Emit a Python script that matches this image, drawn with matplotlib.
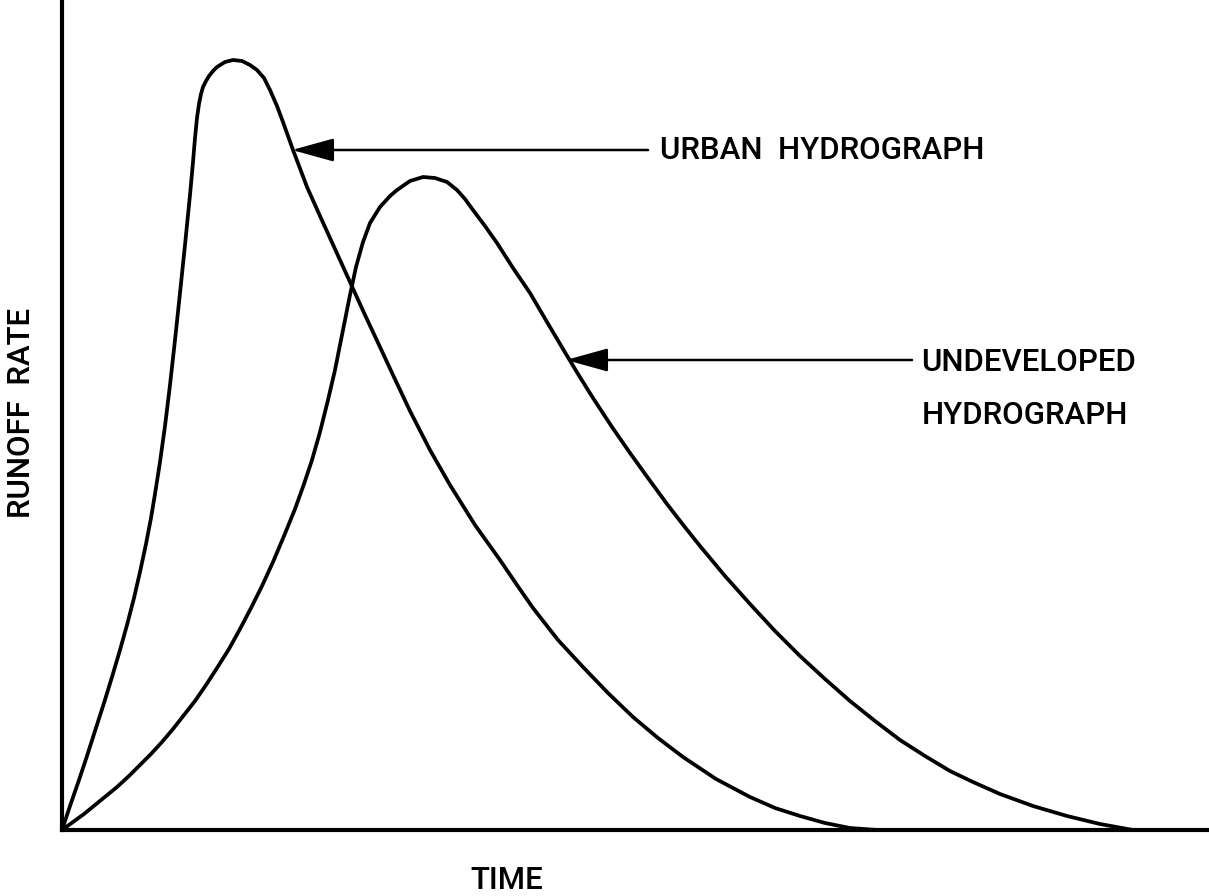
import matplotlib
matplotlib.use("Agg")
import matplotlib.pyplot as plt

# Curves as (time, rate) pairs; origin at the axes corner
urban_points = [
    (0, 0), (8, 24), (17, 50), (25, 74), (33, 99), (42, 127), (50, 153), (58, 180), (65, 205),
    (72, 232), (78, 258), (84, 286), (89, 312), (93, 336), (98, 368), (103, 404), (108, 445),
    (113, 490), (118, 537), (123, 585), (128, 635), (131, 668), (133, 692), (135, 712), (137, 726),
    (139, 736), (141, 743), (144, 749), (147, 754), (151, 759), (155, 763), (163, 768), (171, 770),
    (180, 769), (188, 765), (195, 760), (202, 752), (208, 740), (215, 724), (221, 708), (231, 680),
    (245, 643), (258, 614), (273, 581), (288, 548), (303, 515), (318, 483), (331, 455), (348, 419),
    (368, 380), (388, 345), (413, 305), (438, 270), (455, 245), (471, 222), (496, 190), (521, 163),
    (546, 137), (571, 113), (596, 92), (621, 73), (654, 51), (688, 33), (713, 22), (738, 14),
    (763, 7), (788, 2), (815, 0),
]
undev_points = [
    (0, 0), (11, 8), (22, 16), (33, 25), (44, 34), (55, 43), (67, 54), (78, 65), (89, 76),
    (100, 88), (111, 101), (122, 115), (133, 129), (144, 145), (155, 162), (167, 181), (178, 201),
    (189, 222), (200, 244), (211, 268), (222, 294), (233, 321), (242, 346), (250, 370), (258, 398),
    (266, 430), (273, 460), (280, 495), (288, 535), (294, 563), (301, 588), (308, 607), (318, 623),
    (328, 634), (335, 640), (348, 649), (361, 653), (373, 652), (385, 648), (395, 640), (403, 631),
    (411, 620), (423, 604), (435, 587), (451, 562), (468, 537), (485, 508), (501, 481), (516, 456),
    (531, 432), (550, 403), (568, 377), (586, 352), (605, 326), (622, 304), (638, 284), (663, 254),
    (688, 226), (713, 199), (738, 174), (763, 151), (788, 129), (813, 109), (838, 90), (863, 74),
    (888, 59), (911, 48), (938, 36), (971, 24), (1005, 14), (1038, 6), (1071, 0),
]
urban_time = [p[0] for p in urban_points]
urban_rate = [p[1] for p in urban_points]
undev_time = [p[0] for p in undev_points]
undev_rate = [p[1] for p in undev_points]

x_max, y_max = 1147, 828
label_urban = "URBAN  HYDROGRAPH"
label_undev = ["UNDEVELOPED", "HYDROGRAPH"]
xlabel, ylabel = "TIME", "RUNOFF  RATE"

W, H = 1209, 896
fig = plt.figure(figsize=(W / 100, H / 100), dpi=100)
ax = fig.add_axes([62 / W, (H - 830) / H, (W - 62) / W, 828 / H])
ax.set_xlim(0, x_max)
ax.set_ylim(0, y_max)
for s in ("top", "right"):
    ax.spines[s].set_visible(False)
for s in ("left", "bottom"):
    ax.spines[s].set_linewidth(3.0)
    ax.spines[s].set_capstyle("projecting")
ax.set_xticks([])
ax.set_yticks([])

lw = 2.7
for t, r in ((urban_time, urban_rate), (undev_time, undev_rate)):
    ax.plot(t, r, color="black", lw=lw, solid_joinstyle="round", solid_capstyle="round", clip_on=False)

font = dict(family=["Roboto", "DejaVu Sans"], fontsize=22.5, fontweight="medium", color="black")
aprops = dict(arrowstyle="-|>,head_length=1.3,head_width=0.36", lw=1.8, color="black",
              mutation_scale=20, shrinkA=0, shrinkB=0)

ax.annotate("", xy=(230, 680), xytext=(586, 680), arrowprops=aprops)
ax.text(598, 680, label_urban, ha="left", va="center", **font)

ax.annotate("", xy=(504, 470), xytext=(850, 470), arrowprops=aprops)
ax.text(859, 468, label_undev[0], ha="left", va="center", **font)
ax.text(860, 415, label_undev[1], ha="left", va="center", **font)

fig.text(22 / W, 1 - 413 / H, ylabel, rotation=90, ha="center", va="center", **font)
fig.text(507 / W, 1 - 880 / H, xlabel, ha="center", va="center", **font)

fig.savefig("out.png", dpi=100, facecolor="white")
